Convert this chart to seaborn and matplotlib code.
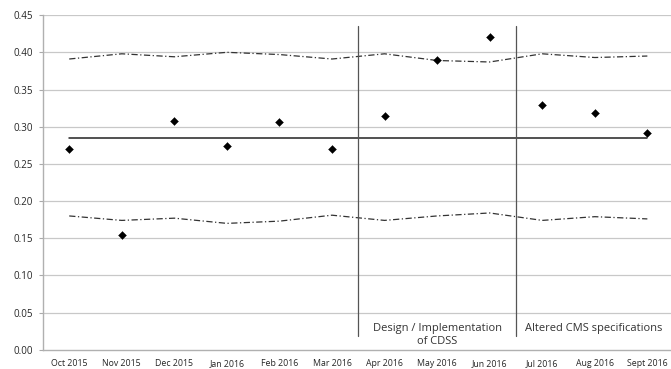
import matplotlib
matplotlib.use("Agg")
import matplotlib.pyplot as plt
import seaborn as sns
import pandas as pd
import numpy as np

months = ["Oct 2015", "Nov 2015", "Dec 2015", "Jan 2016", "Feb 2016", "Mar 2016",
          "Apr 2016", "May 2016", "Jun 2016", "Jul 2016", "Aug 2016", "Sept 2016"]
rate = [0.270, 0.154, 0.308, 0.274, 0.306, 0.270, 0.315, 0.389, 0.421, 0.329, 0.318, 0.291]
ucl = [0.391, 0.398, 0.394, 0.400, 0.397, 0.391, 0.398, 0.389, 0.387, 0.398, 0.393, 0.395]
lcl = [0.180, 0.174, 0.177, 0.170, 0.173, 0.181, 0.174, 0.180, 0.184, 0.174, 0.179, 0.176]
center = 0.285
phase_labels = ["Design / Implementation\nof CDSS", "Altered CMS specifications"]

df = pd.DataFrame({"x": np.arange(len(months)), "rate": rate, "ucl": ucl, "lcl": lcl})
df["center"] = center

sns.set_style("white")
plt.rcParams["font.family"] = ["Open Sans", "DejaVu Sans"]

fig = plt.figure(figsize=(6.71, 3.69), dpi=100)
ax = fig.add_axes([0.064, 0.052, 0.936, 0.907])

for y in np.arange(0.05, 0.46, 0.05):
    ax.axhline(y, color="#c8c8c8", linewidth=0.9, zorder=0)

sns.lineplot(data=df, x="x", y="ucl", ax=ax, color="#333333", linewidth=0.9,
             linestyle=(0, (5, 2, 1, 2)))
sns.lineplot(data=df, x="x", y="lcl", ax=ax, color="#333333", linewidth=0.9,
             linestyle=(0, (5, 2, 1, 2)))
sns.lineplot(data=df, x="x", y="center", ax=ax, color="#222222", linewidth=1.1)
sns.scatterplot(data=df, x="x", y="rate", ax=ax, marker="D", s=16, color="black",
                edgecolor="black", zorder=5)

# phase separators
for xb in [5.5, 8.5]:
    ax.plot([xb, xb], [0.018, 0.435], color="#555555", linewidth=0.9)

ax.text(7, 0.0195, phase_labels[0], ha="center", va="center", fontsize=8,
        color="#333333", linespacing=1.25)
ax.text(9.97, 0.0285, phase_labels[1], ha="center", va="center", fontsize=8,
        color="#333333")

ax.set_xlim(-0.5, 11.45)
ax.set_ylim(0, 0.45)
ax.set_yticks(np.arange(0, 0.46, 0.05))
ax.set_yticklabels([f"{v:.2f}" for v in np.arange(0, 0.46, 0.05)], fontsize=7)
ax.set_xticks(df["x"])
ax.set_xticklabels(months, fontsize=6.3)
ax.set_xticks(np.arange(0.5, 11.5, 1), minor=True)
ax.tick_params(axis="x", which="major", length=0, pad=6.5)
ax.tick_params(axis="x", which="minor", length=3, color="#aaaaaa", direction="out")
ax.tick_params(axis="y", length=3, color="#aaaaaa", pad=4)
ax.yaxis.set_tick_params(which="major", left=True)
ax.set_xlabel("")
ax.set_ylabel("")

for side in ["top", "right"]:
    ax.spines[side].set_visible(False)
for side in ["left", "bottom"]:
    ax.spines[side].set_color("#b0b0b0")
    ax.spines[side].set_linewidth(1.0)

fig.savefig("out.png", dpi=100)
